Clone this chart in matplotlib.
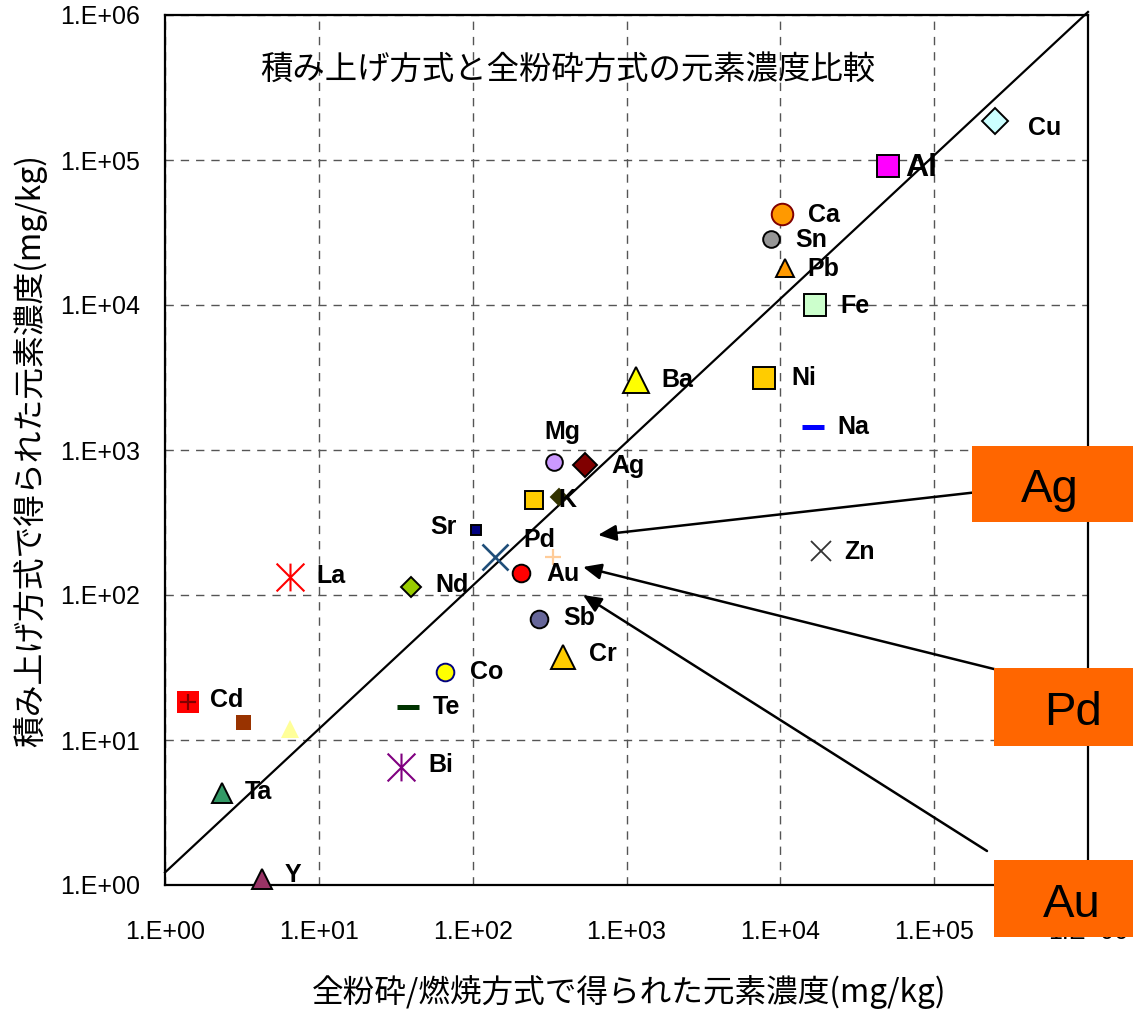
import matplotlib
matplotlib.use('Agg')
import matplotlib.pyplot as plt
from matplotlib.path import Path
from matplotlib.patches import Rectangle
from matplotlib.ticker import FixedLocator, FixedFormatter, NullLocator

W, H, DPI = 1133, 1009, 100

# ---------------- data ----------------
labels = ['Cu', 'Al', 'Ca', 'Sn', 'Pb', 'Fe', 'Ba', 'Ni', 'Na', 'Mg', 'Ag', 'K', '', 'Sr', 'Pd', '',
          'Au', 'La', 'Nd', 'Sb', 'Cr', 'Co', 'Te', 'Cd', '', '', 'Bi', 'Ta', 'Y', 'Zn']
x_whole = [2.49e5, 5.01e4, 1.03e4, 8.7e3, 1.07e4, 1.68e4, 1.15e3, 7.83e3, 1.63e4, 338, 537, 364, 250, 105,
           140, 333, 206, 6.5, 39.7, 270, 387, 66.1, 38.0, 1.41, 3.21, 6.5, 34.2, 2.35, 4.27, 1.84e4]
y_stack = [1.86e5, 9.10e4, 4.24e4, 2.85e4, 1.80e4, 1.0e4, 3.04e3, 3.14e3, 1.44e3, 827, 788, 474, 452, 281,
           183, 183, 142, 133, 114, 68.3, 37.4, 29.4, 16.9, 18.3, 13.3, 11.9, 6.51, 4.31, 1.10, 201]

line_x = [1.0, 1.0e6]
line_y = [1.22, 1.05e6]

tick_vals = [1, 10, 100, 1e3, 1e4, 1e5, 1e6]
tick_labels = ['1.E+00', '1.E+01', '1.E+02', '1.E+03', '1.E+04', '1.E+05', '1.E+06']

title = '積み上げ方式と全粉砕方式の元素濃度比較'
xlabel = '全粉砕/燃焼方式で得られた元素濃度(mg/kg)'
ylabel = '積み上げ方式で得られた元素濃度(mg/kg)'
callouts = ['Ag', 'Pd', 'Au']

# ---------------- styles ----------------
ast = Path([(-1, -1), (1, 1), (-1, 1), (1, -1), (0, -1), (0, 1)],
           [Path.MOVETO, Path.LINETO, Path.MOVETO, Path.LINETO, Path.MOVETO, Path.LINETO])
K = 'black'
styles = [
    dict(marker='D', ms=13.3, mfc='#CCFFFF', mec=K),        # Cu
    dict(marker='s', ms=15.5, mfc='#FF00FF', mec=K),        # Al
    dict(marker='o', ms=15.5, mfc='#FF9900', mec='#800000'),  # Ca
    dict(marker='o', ms=12.0, mfc='#969696', mec=K),        # Sn
    dict(marker='^', ms=13.4, mfc='#FF9900', mec=K),        # Pb
    dict(marker='s', ms=16.0, mfc='#CCFFCC', mec=K),        # Fe
    dict(marker='^', ms=18.4, mfc='#FFFF00', mec=K),        # Ba
    dict(marker='s', ms=15.5, mfc='#FFCC00', mec=K),        # Ni
    dict(marker='_', ms=16.5, mec='#0000FF', mew=3.6),      # Na
    dict(marker='o', ms=12.0, mfc='#CC99FF', mec=K),        # Mg
    dict(marker='D', ms=11.8, mfc='#800000', mec=K),        # Ag
    dict(marker='D', ms=8.0, mfc='#333300', mec='#333300'),  # K
    dict(marker='s', ms=13.4, mfc='#FFCC00', mec=K),        # gold square
    dict(marker='s', ms=6.5, mfc='#000080', mec=K),         # Sr
    dict(marker='x', ms=19.0, mec='#1F4E79', mew=1.9),      # Pd (x)
    dict(marker='+', ms=12.0, mec='#FFCC99', mew=1.6),      # +
    dict(marker='o', ms=12.7, mfc='#FF0000', mec=K),        # Au
    dict(marker=ast, ms=20.0, mec='#FF0000', mew=1.5),      # La
    dict(marker='D', ms=10.0, mfc='#99CC00', mec=K),        # Nd
    dict(marker='o', ms=12.7, mfc='#666699', mec=K),        # Sb
    dict(marker='^', ms=17.7, mfc='#FFCC00', mec=K),        # Cr
    dict(marker='o', ms=12.7, mfc='#FFFF00', mec='#000080'),  # Co
    dict(marker='_', ms=16.5, mec='#003300', mew=3.6),      # Te
    dict(marker='s', ms=16.5, mfc='#FF0000', mec='none'),   # Cd
    dict(marker='s', ms=10.8, mfc='#993300', mec='none'),   # brown
    dict(marker='^', ms=13.0, mfc='#FFFF99', mec='none'),   # light yellow
    dict(marker=ast, ms=20.0, mec='#800080', mew=1.5),      # Bi
    dict(marker='^', ms=14.8, mfc='#339966', mec=K),        # Ta
    dict(marker='^', ms=14.0, mfc='#993366', mec=K),        # Y
    dict(marker='x', ms=14.4, mec='#333333', mew=1.3),      # Zn
]
# label offsets in pixels (dx, dy), alignment, size
lab_style = {
    'Cu': (33, -7, 'left', 18), 'Al': (17, -2, 'left', 23), 'Ca': (26, -1, 'left', 18),
    'Sn': (24, -1, 'left', 18), 'Pb': (23, -1, 'left', 18), 'Fe': (25, -1, 'left', 18),
    'Ba': (26, 0, 'left', 18), 'Ni': (27, 0, 'left', 18), 'Na': (24, 0, 'left', 18),
    'Mg': (8, 30, 'center', 18), 'Ag': (26, -1, 'left', 18), 'K': (-1, -3, 'left', 18),
    'Sr': (-19, 3, 'right', 18), 'Pd': (28, 17, 'left', 18), 'Au': (25, -1, 'left', 18),
    'La': (26, 1, 'left', 18), 'Nd': (24, 2, 'left', 18), 'Sb': (24, 1, 'left', 18),
    'Cr': (26, 3, 'left', 18), 'Co': (25, 0, 'left', 18), 'Te': (25, 0, 'left', 18),
    'Cd': (22, 2, 'left', 18), 'Bi': (27, 2, 'left', 18), 'Ta': (23, 1, 'left', 18),
    'Y': (23, 4, 'left', 18), 'Zn': (23, -1, 'left', 18),
}

JP = ['Noto Sans CJK JP', 'DejaVu Sans']
LAT = ['Liberation Sans', 'DejaVu Sans']

fig = plt.figure(figsize=(W / DPI, H / DPI), dpi=DPI)
L, R, T, B = 165, 1088, 15, 885
ax = fig.add_axes([L / W, 1 - B / H, (R - L) / W, (B - T) / H])
ax.set_xscale('log')
ax.set_yscale('log')
ax.set_xlim(1, 1e6)
ax.set_ylim(1, 1e6)

for axis in (ax.xaxis, ax.yaxis):
    axis.set_major_locator(FixedLocator(tick_vals))
    axis.set_major_formatter(FixedFormatter(tick_labels))
    axis.set_minor_locator(NullLocator())
ax.tick_params(axis='x', length=0, pad=25, labelsize=18)
ax.tick_params(axis='y', length=0, pad=18, labelsize=18)
for lab in ax.get_xticklabels() + ax.get_yticklabels():
    lab.set_fontfamily(LAT)

ax.grid(True, which='major', color='#555555', linestyle=(0, (6, 5)), linewidth=1.0)
for sp in ax.spines.values():
    sp.set_linewidth(1.6)
    sp.set_color('black')

ax.plot(line_x, line_y, color='black', lw=1.6, clip_on=False, zorder=3)

for xv, yv, st in zip(x_whole, y_stack, styles):
    kw = dict(st)
    mew = kw.pop('mew', 1.4)
    ax.plot([xv], [yv], linestyle='none', mew=mew, clip_on=False, zorder=4, **kw)
# plus sign drawn inside the Cd square
ax.plot([x_whole[23]], [y_stack[23]], linestyle='none', marker='+', ms=11, mec='#800000', mew=1.6,
        clip_on=False, zorder=5)

for xv, yv, lab in zip(x_whole, y_stack, labels):
    if not lab:
        continue
    dx, dy, ha, size = lab_style[lab]
    ax.annotate(lab, (xv, yv), xytext=(dx, dy), textcoords='offset pixels', ha=ha, va='center',
                fontsize=size, fontweight='bold', family=LAT, zorder=6, annotation_clip=False)

# title inside the axes
fig.text(568 / W, 1 - 70 / H, title, ha='center', va='center', fontsize=23.3, family=JP)
fig.text(629 / W, 1 - 992 / H, xlabel, ha='center', va='center', fontsize=22.8, family=JP)
fig.text(30 / W, 1 - 451 / H, ylabel, ha='center', va='center', rotation=90, fontsize=22.9, family=JP)

# call-out arrows (figure pixel coordinates)
arrows = [((987, 491), (598, 535)), ((1002, 671), (583, 567)), ((987, 851), (583, 595))]
for (sx, sy), (tx, ty) in arrows:
    ax.annotate('', xy=(tx, H - ty), xycoords='figure pixels', xytext=(sx, H - sy),
                textcoords='figure pixels', annotation_clip=False,
                arrowprops=dict(arrowstyle='-|>,head_length=1.1,head_width=0.48', color='black',
                                lw=1.8, shrinkA=0, shrinkB=0, mutation_scale=10))

# orange call-out boxes
boxes = [(972, 446, 1135, 522, 1050, 502), (994, 668, 1135, 746, 1073, 725), (994, 860, 1135, 937, 1072, 917)]
for (x0, y0, x1, y1, tx, ty), txt in zip(boxes, callouts):
    fig.add_artist(Rectangle((x0 / W, 1 - y1 / H), (x1 - x0) / W, (y1 - y0) / H, transform=fig.transFigure,
                             facecolor='#FF6600', edgecolor='none', zorder=10))
    fig.text(tx / W, 1 - ty / H, txt, ha='center', va='baseline', fontsize=34, family=LAT, zorder=11)

fig.savefig('out.png', dpi=DPI)
